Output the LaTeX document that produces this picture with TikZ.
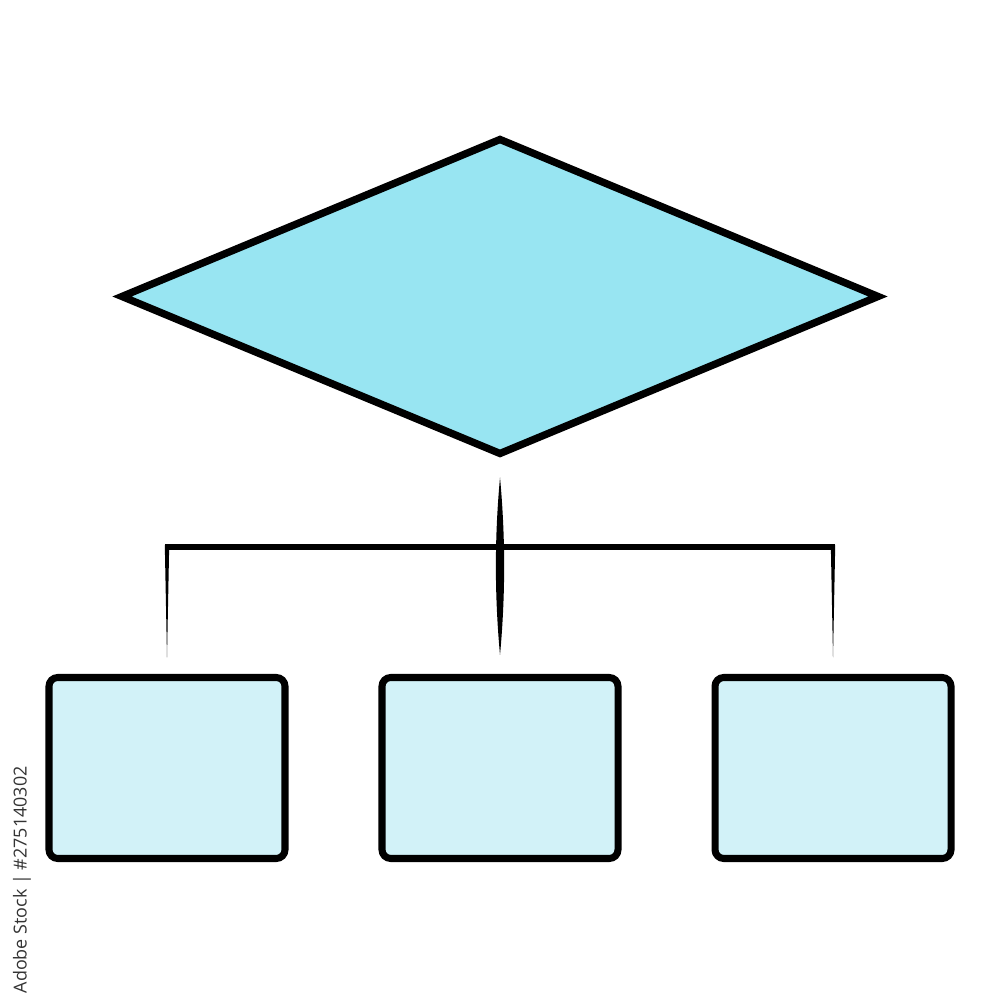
\documentclass[tikz,border=0pt]{standalone}
\usepackage{fontspec}
\newfontfamily\stockfont{Open Sans}
\usetikzlibrary{shapes.geometric,positioning,calc}
\definecolor{decfill}{HTML}{98E5F2}
\definecolor{boxfill}{HTML}{D2F2F8}
\tikzset{
  decision/.style={diamond, draw, fill=decfill, line width=2.1pt, aspect=2.4, inner sep=0pt, outer sep=0pt, minimum width=7.56cm, minimum height=3.14cm},
  block/.style={rectangle, draw, fill=boxfill, line width=2pt, rounded corners=2.5pt, outer sep=0pt, minimum width=2.36cm, minimum height=1.81cm}
}
\begin{document}
\begin{tikzpicture}
  \useasboundingbox (0,0) rectangle (10,10);
  \node[decision] (d) at (5,7.035) {};
  \node[block] (b2) at (5,2.32) {};
  \node[block, left=0.97cm of b2] (b1) {};
  \node[block, right=0.97cm of b2] (b3) {};
  \coordinate (hub) at (5,4.53);
  % spindle from the diamond down to the middle box
  \fill ($(d.south)+(0,-0.24)$) coordinate (s1)
    .. controls +(0.055,-0.6) and +(0.055,0.6) .. ($(b2.north)+(0,0.225)$) coordinate (s2)
    .. controls +(-0.055,0.6) and +(-0.055,-0.6) .. (s1);
  \draw[line width=1.5pt] ($(hub -| b1)+(-0.02,0)$) -- ($(hub -| b3)+(0.02,0)$);
  % drops to the side boxes
  \foreach \b in {b1,b3}
    \fill ($(hub -| \b)+(-0.022,0.02)$) -- ($(hub -| \b)+(0.022,0.02)$) -- ($(\b.north)+(0,0.2)$) -- cycle;
  \node[rotate=90, anchor=west, inner sep=0pt, text=black!80, font=\stockfont\fontsize{5.1}{6}\selectfont] (stock) at (0.22,0.06) {Adobe Stock | \#275140302};
\end{tikzpicture}
\end{document}
